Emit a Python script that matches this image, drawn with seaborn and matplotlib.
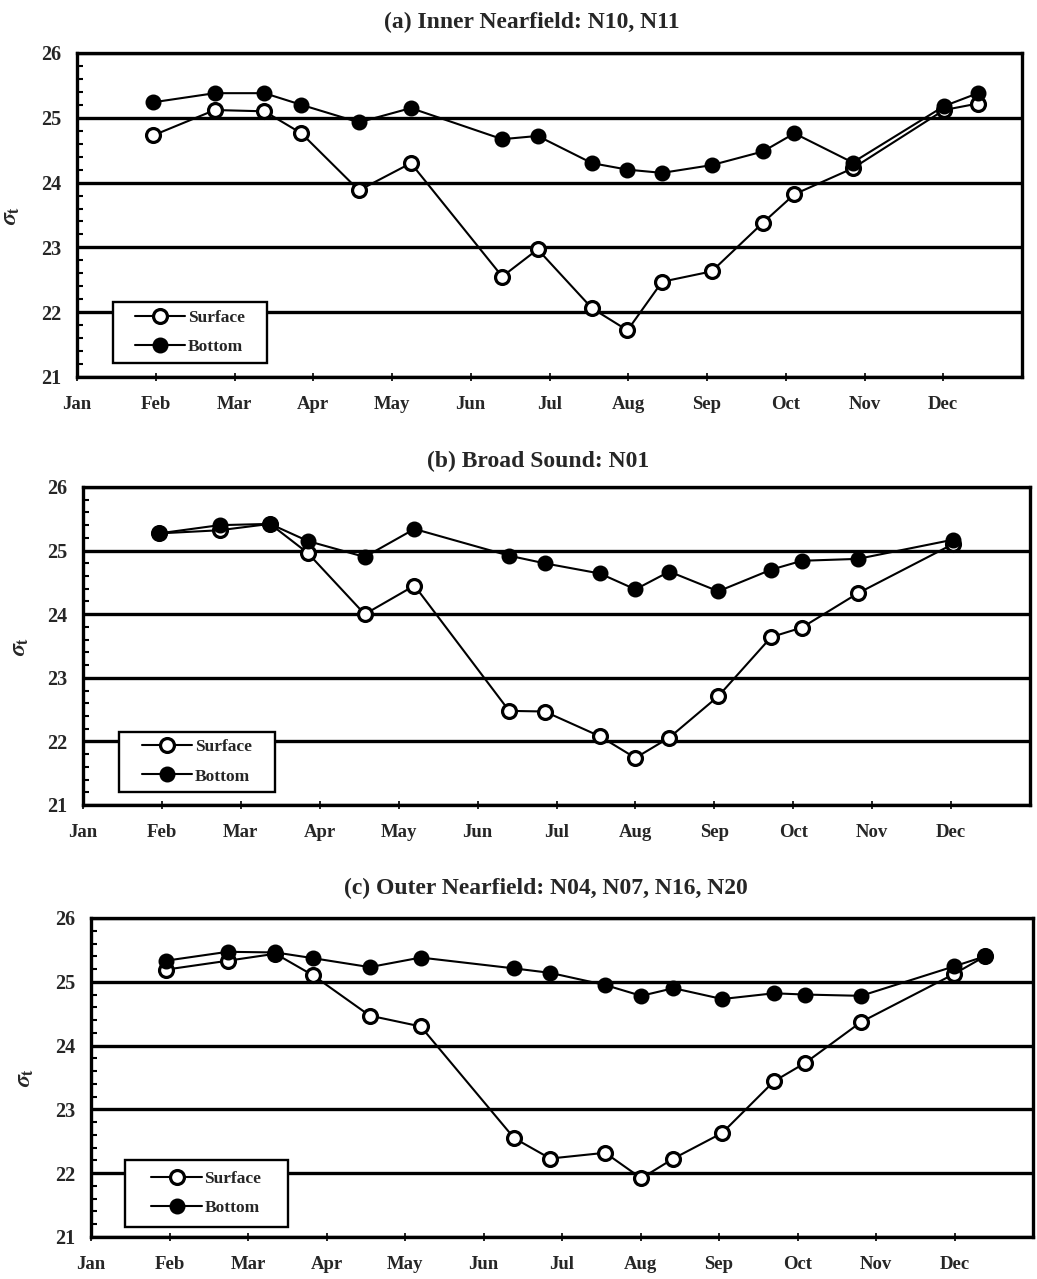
import matplotlib
matplotlib.use("Agg")
import matplotlib.pyplot as plt
import seaborn as sns
import pandas as pd
from matplotlib.patches import Rectangle
from matplotlib.ticker import MultipleLocator

# Sampling dates as fractional months (0 = 1 Jan, 11 = 1 Dec)
month_labels = ["Jan", "Feb", "Mar", "Apr", "May", "Jun",
                "Jul", "Aug", "Sep", "Oct", "Nov", "Dec"]

# (a) Inner Nearfield: N10, N11
months_a = [0.97, 1.75, 2.38, 2.85, 3.58, 4.24, 5.40, 5.85, 6.54, 6.99,
            7.43, 8.06, 8.71, 9.11, 9.85, 11.01, 11.44]
surface_a = [24.73, 25.12, 25.10, 24.76, 23.88, 24.30, 22.55, 22.97, 22.06, 21.72,
             22.47, 22.63, 23.38, 23.82, 24.22, 25.12, 25.22]
bottom_a = [25.24, 25.38, 25.38, 25.20, 24.93, 25.15, 24.67, 24.72, 24.30, 24.20,
            24.15, 24.27, 24.48, 24.76, 24.31, 25.18, 25.38]

# (b) Broad Sound: N01
months_b = [0.96, 1.73, 2.37, 2.85, 3.57, 4.20, 5.40, 5.85, 6.55, 7.00,
            7.43, 8.05, 8.72, 9.11, 9.82, 11.02]
surface_b = [25.27, 25.32, 25.42, 24.96, 24.00, 24.45, 22.48, 22.47, 22.08, 21.74,
             22.06, 22.71, 23.64, 23.79, 24.33, 25.10]
bottom_b = [25.27, 25.40, 25.42, 25.15, 24.90, 25.34, 24.92, 24.80, 24.64, 24.39,
            24.67, 24.36, 24.70, 24.84, 24.87, 25.17]

# (c) Outer Nearfield: N04, N07, N16, N20
months_c = [0.95, 1.74, 2.35, 2.83, 3.55, 4.20, 5.39, 5.85, 6.55, 7.01,
            7.42, 8.04, 8.70, 9.10, 9.81, 10.99, 11.39]
surface_c = [25.19, 25.33, 25.44, 25.10, 24.47, 24.30, 22.55, 22.23, 22.32, 21.92,
             22.23, 22.63, 23.44, 23.73, 24.37, 25.12, 25.40]
bottom_c = [25.33, 25.47, 25.46, 25.37, 25.23, 25.38, 25.21, 25.14, 24.95, 24.78,
            24.90, 24.73, 24.82, 24.80, 24.78, 25.24, 25.40]

titles = ["(a) Inner Nearfield: N10, N11",
          "(b) Broad Sound: N01",
          "(c) Outer Nearfield: N04, N07, N16, N20"]

sns.set_style("white")
plt.rcParams["font.family"] = ["Liberation Serif", "DejaVu Serif"]
plt.rcParams["font.weight"] = "bold"
plt.rcParams["mathtext.fontset"] = "stix"

W, H = 1037, 1279
fig = plt.figure(figsize=(W / 100, H / 100), dpi=100)

# Axes boxes in pixels: left, right, top, bottom
boxes = [(77, 1022, 53, 377), (83, 1030, 487, 805), (91, 1033, 918, 1237)]
title_xy = [(532, 22), (538, 461), (546, 888)]
ylabel_x = [-0.058, -0.055, -0.058]
# Legend boxes in axes fractions: x0, y0, x1, y1
legend_box = [(0.038, 0.043, 0.201, 0.231),
              (0.038, 0.041, 0.203, 0.230),
              (0.036, 0.031, 0.209, 0.241)]

panels = [(months_a, surface_a, bottom_a),
          (months_b, surface_b, bottom_b),
          (months_c, surface_c, bottom_c)]

for i, (months, surf, bott) in enumerate(panels):
    l, r, t, b = boxes[i]
    ax = fig.add_axes([l / W, 1 - b / H, (r - l) / W, (b - t) / H])
    df = pd.DataFrame({"month": months, "Surface": surf, "Bottom": bott})

    sns.lineplot(data=df, x="month", y="Surface", ax=ax, color="black",
                 lw=1.5, marker="o", markersize=10, markerfacecolor="white",
                 markeredgecolor="black", markeredgewidth=2.3, label="Surface",
                 zorder=3)
    sns.lineplot(data=df, x="month", y="Bottom", ax=ax, color="black",
                 lw=1.5, marker="o", markersize=10, markerfacecolor="black",
                 markeredgecolor="black", markeredgewidth=1.5, label="Bottom",
                 zorder=4)

    ax.set_xlim(0, 12)
    ax.set_ylim(21, 26)
    ax.set_xticks(range(12))
    ax.set_xticklabels(month_labels, fontsize=13.5, fontweight="bold")
    ax.set_yticks(range(21, 27))
    ax.set_yticklabels([str(v) for v in range(21, 27)], fontsize=14.5,
                       fontweight="bold")
    ax.yaxis.set_minor_locator(MultipleLocator(0.2))
    ax.tick_params(axis="y", which="major", direction="out", length=5,
                   width=2, pad=6, color="black")
    ax.tick_params(axis="y", which="minor", direction="in", length=4,
                   width=1.5, left=True, color="black")
    ax.tick_params(axis="x", which="major", direction="inout", length=6,
                   width=1.2, pad=11, bottom=True, color="black")

    ax.grid(axis="y", which="major", color="black", lw=2.4)
    ax.grid(axis="x", visible=False)
    for sp in ax.spines.values():
        sp.set_color("black")
        sp.set_linewidth(2.4)

    ax.set_xlabel("")
    ax.set_ylabel(r"$\sigma_{\mathrm{t}}$", fontsize=17)
    ax.yaxis.set_label_coords(ylabel_x[i], 0.5)

    # Boxed legend
    x0, y0, x1, y1 = legend_box[i]
    ax.add_patch(Rectangle((x0, y0), x1 - x0, y1 - y0, transform=ax.transAxes,
                           facecolor="white", edgecolor="black", lw=1.7,
                           zorder=5, clip_on=False))
    leg = ax.legend(loc="center", bbox_to_anchor=((x0 + x1) / 2, (y0 + y1) / 2),
                    borderaxespad=0, frameon=False, handlelength=2.9,
                    handletextpad=0.15, borderpad=0.2, labelspacing=0.75,
                    prop={"family": "Liberation Serif", "weight": "bold",
                          "size": 12.5})
    leg.set_zorder(6)

    tx, ty = title_xy[i]
    fig.text(tx / W, 1 - ty / H, titles[i], ha="center", va="center",
             fontsize=17, fontweight="bold")

fig.savefig("out.png", dpi=100, facecolor="white")
